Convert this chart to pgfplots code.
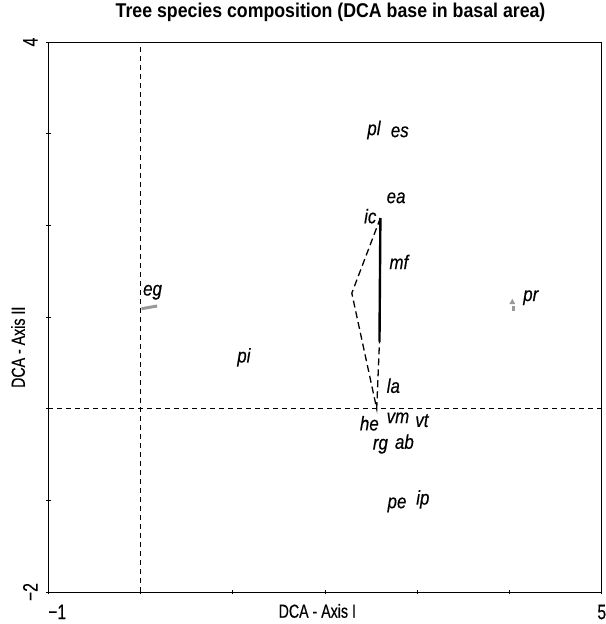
\documentclass[border=0pt]{standalone}
\usepackage{fontspec}
\setmainfont{Liberation Sans}[FakeStretch=0.75, FakeBold=0.4]
\newfontfamily\tfont{Liberation Sans}[FakeStretch=0.89]
\newfontfamily\lfont{Liberation Sans}[FakeStretch=0.85, FakeBold=0.3]
\usepackage{pgfplots}
\pgfplotsset{compat=1.18}
\pgfplotstableread{
x y lab
2.53 3.04 pl
2.81 3.02 es
2.77 2.30 ea
2.49 2.10 ic
2.80 1.60 mf
0.13 1.27 eg
4.23 1.21 pr
1.12 0.56 pi
2.74 0.25 la
2.48 -0.16 he
2.79 -0.10 vm
3.05 -0.13 vt
2.60 -0.41 rg
2.86 -0.36 ab
2.78 -1.05 pe
3.06 -0.99 ip
}\labels
\begin{document}
\begin{tikzpicture}
\begin{axis}[
  at={(0,0)}, anchor=south west,
  scale only axis, width=553.5bp, height=550bp,
  xmin=-1, xmax=5, ymin=-2, ymax=4,
  xtick={-1,0,1,2,3,4,5}, xticklabels={\makebox[0pt][l]{−1},{},{},{},{},{},5},
  ytick={-2,-1,0,1,2,3,4}, yticklabels={−2,{},{},{},{},{},4},
  tick align=center, xtick pos=bottom, ytick pos=left,
  major tick length=5bp,
  tick style={black, line width=0.8pt},
  axis line style={line width=0.9pt},
  ticklabel style={font=\fontsize{21}{23}\selectfont},
  xticklabel style={anchor=north, inner sep=0pt, yshift=-10bp},
  yticklabel style={rotate=90, anchor=south, inner sep=0pt, yshift=8bp},
  xlabel={DCA - Axis I}, ylabel={DCA - Axis II},
  label style={font=\fontsize{19}{22}\selectfont},
  xlabel style={at={(axis description cs:0.486,-0.0345)}, anchor=center},
  ylabel style={at={(axis description cs:-0.0547,0.445)}, anchor=center},
  title={\tfont\bfseries Tree species composition (DCA base in basal area)},
  title style={font=\fontsize{20}{22}\selectfont, at={(axis description cs:0.51,1.0436)}, anchor=center},
  clip=false,
]
\addplot[black, dash pattern=on 5bp off 4bp, line width=0.8pt] coordinates {(0,-2) (0,4)};
\addplot[black, dash pattern=on 5bp off 4bp, line width=0.8pt] coordinates {(-1,0) (5,0)};
\addplot[black, dash pattern=on 7bp off 4bp, line width=1.3pt] coordinates {(2.60,2.08) (2.29,1.26) (2.56,0.0) (2.59,0.73)};
\addplot[black, line width=2.4pt] coordinates {(2.60,2.08) (2.59,0.73)};
\addplot[gray!80, line width=3pt] coordinates {(0.01,1.09) (0.18,1.12)};
\addplot[gray!80, line width=3pt] coordinates {(4.04,1.07) (4.04,1.12)};
\addplot[gray!80, mark=triangle*, mark size=3pt, only marks] coordinates {(4.03,1.16)};
\addplot[only marks, mark=none, nodes near coords, point meta=explicit symbolic,
  nodes near coords style={anchor=center, font=\lfont\fontsize{20}{22}\selectfont\itshape}]
  table[x=x, y=y, meta=lab] {\labels};
\end{axis}
\pgfresetboundingbox
\path[use as bounding box] (-48.3bp,-32bp) rectangle (557.7bp,592bp);
\end{tikzpicture}
\end{document}
